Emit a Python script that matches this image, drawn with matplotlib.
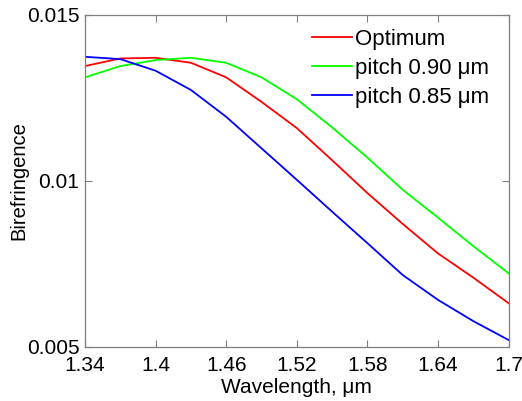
import matplotlib
matplotlib.use("Agg")
import matplotlib.pyplot as plt

plt.rcParams['font.family'] = ['Liberation Sans', 'DejaVu Sans']

wavelength = [1.34, 1.37, 1.40, 1.43, 1.46, 1.49, 1.52, 1.55, 1.58, 1.61, 1.64, 1.67, 1.70]
optimum = [0.01346, 0.01369, 0.01371, 0.01356, 0.01312, 0.01238, 0.01159, 0.01062,
           0.00963, 0.00870, 0.00781, 0.00708, 0.00631]
pitch_090 = [0.01312, 0.01346, 0.01364, 0.01371, 0.01356, 0.01312, 0.01246, 0.01161,
             0.01070, 0.00973, 0.00889, 0.00803, 0.00721]
pitch_085 = [0.01374, 0.01367, 0.01332, 0.01274, 0.01193, 0.01098, 0.01003, 0.00907,
             0.00812, 0.00716, 0.00641, 0.00577, 0.00520]

series_labels = ['Optimum', 'pitch 0.90 μm', 'pitch 0.85 μm']
series_colors = ['#ff0000', '#00ff00', '#0000ff']
xticks = [1.34, 1.40, 1.46, 1.52, 1.58, 1.64, 1.70]
xtick_labels = ['1.34', '1.4', '1.46', '1.52', '1.58', '1.64', '1.7']
yticks = [0.005, 0.01, 0.015]
ytick_labels = ['0.005', '0.01', '0.015']

fig = plt.figure(figsize=(5.22, 4.01), dpi=100)
ax = fig.add_axes([85 / 522, 1 - 346.7 / 401, (508.7 - 85) / 522, (346.7 - 15) / 401])

for ys, lab, col in zip([optimum, pitch_090, pitch_085], series_labels, series_colors):
    ax.plot(wavelength, ys, color=col, lw=1.3, label=lab)

ax.set_xlim(1.34, 1.70)
ax.set_ylim(0.005, 0.015)
ax.set_xticks(xticks)
ax.set_xticklabels(xtick_labels)
ax.set_yticks(yticks)
ax.set_yticklabels(ytick_labels)
ax.tick_params(direction='in', top=True, right=True, length=5, width=0.8,
               color='#7f7f7f', labelsize=15)
ax.tick_params(axis='x', pad=7)
ax.tick_params(axis='y', pad=4)
for s in ax.spines.values():
    s.set_color('#7f7f7f')
    s.set_linewidth(0.9)

ax.set_xlabel('Wavelength, μm', fontsize=15, labelpad=2)
ax.set_ylabel('Birefringence', fontsize=14.5, labelpad=-1)

ax.legend(loc='upper left', frameon=False, fontsize=16, handlelength=1.8,
          handletextpad=0.15, labelspacing=0.36, borderpad=0.0, borderaxespad=0.0,
          bbox_to_anchor=((312 - 85) / 423.7, (346.7 - 29) / 331.7))

fig.savefig('out.png', dpi=100)
